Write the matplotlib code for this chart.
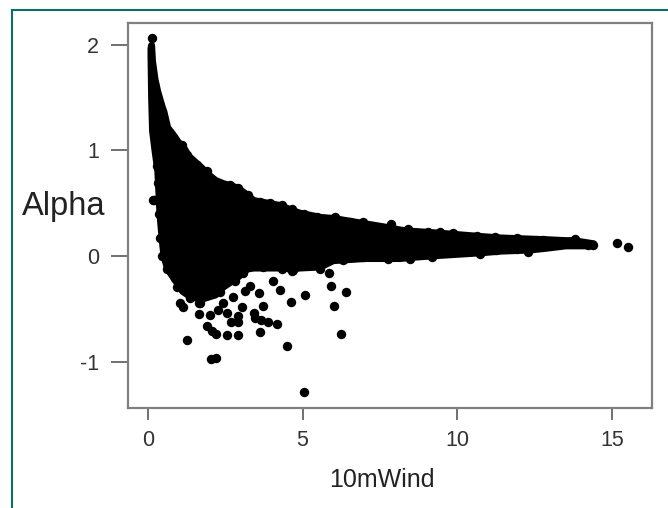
import matplotlib
matplotlib.use('Agg')
import matplotlib.pyplot as plt
from matplotlib.lines import Line2D

plt.rcParams['font.family'] = ['Liberation Sans', 'DejaVu Sans']
plt.rcParams['axes.unicode_minus'] = False

W, H = 668, 508

# outline of the solid cloud
cloud_x = [0.08, 0.10, 0.13, 0.21, 0.30, 0.37, 0.44, 0.50, 0.62, 0.78, 0.97, 1.10, 1.30, 1.68, 2.00, 2.17,
           2.42, 2.88, 3.20, 3.40, 4.30, 4.60, 4.90, 5.56, 5.98, 7.00, 7.82, 8.15, 8.47, 9.20,
           9.44, 10.7, 11.4, 12.3, 12.8, 13.5, 13.75, 14.4]
cloud_top = [1.97, 2.00, 1.85, 1.68, 1.56, 1.49, 1.42, 1.37, 1.22, 1.16, 1.08, 1.05, 0.95, 0.85, 0.76, 0.72,
             0.69, 0.65, 0.58, 0.53, 0.48, 0.44, 0.41, 0.37, 0.36, 0.31, 0.27, 0.25, 0.24, 0.225,
             0.22, 0.19, 0.175, 0.165, 0.16, 0.15, 0.15, 0.12]
cloud_bottom = [1.90, 1.50, 1.19, 1.00, 0.81, 0.40, 0.16, 0.00, -0.12, -0.19, -0.27, -0.33, -0.37, -0.41, -0.38, -0.365,
                -0.29, -0.20, -0.12, -0.11, -0.11, -0.12, -0.11, -0.10, -0.04, -0.02, -0.02, -0.02, -0.01, 0.005,
                0.01, 0.033, 0.05, 0.06, 0.075, 0.10, 0.10, 0.10]

# single points whose rims make the bumpy edge of the cloud
edge_wind = [0.82, 1.09, 1.25, 1.59, 1.90, 2.27, 2.65, 2.92, 3.24, 3.62, 3.94, 4.32, 4.65, 5.04, 5.45,
             6.05, 6.53, 6.94, 7.34, 7.85, 8.42, 9.06, 9.44, 9.85, 10.63, 11.22, 11.92, 12.77, 13.8, 14.23,
             0.17, 0.35, 0.39, 0.44, 0.60, 0.93, 0.31, 0.29,
             1.66, 1.36, 2.33, 2.81, 3.07, 3.72, 4.32, 4.68, 5.56, 0.87,
             6.31, 6.95, 7.77, 8.47, 9.2, 10.73, 11.27, 11.92, 12.29]
edge_alpha = [1.13, 1.05, 0.96, 0.86, 0.80, 0.69, 0.67, 0.64, 0.58, 0.51, 0.50, 0.48, 0.44, 0.40, 0.37,
              0.37, 0.325, 0.325, 0.27, 0.30, 0.255, 0.23, 0.23, 0.215, 0.19, 0.18, 0.17, 0.147, 0.158, 0.104,
              0.53, 0.40, 0.17, 0.0, -0.12, -0.29, 0.69, 0.85,
              -0.45, -0.39, -0.34, -0.24, -0.16, -0.10, -0.12, -0.13, -0.12, -0.21,
              -0.04, -0.01, -0.03, -0.03, -0.01, 0.02, 0.06, 0.07, 0.04]

# points that stand clear of the cloud
wind = [0.13, 15.16, 15.52, 14.4, 1.03, 1.12, 1.66, 2.0, 1.27, 1.92, 2.06, 2.2, 2.55, 2.9, 2.67, 2.91, 2.91,
        2.55, 2.27, 2.41, 3.03, 2.76, 3.14, 3.3, 3.59, 4.05, 4.27, 3.73, 4.61, 5.09, 3.43, 3.46,
        3.64, 3.89, 4.17, 3.63, 4.49, 5.03, 2.05, 2.19, 5.85, 5.93, 6.40, 6.02, 6.23, 1.68, 1.36,
        4.65, 0.20]
alpha = [2.06, 0.12, 0.088, 0.10, -0.45, -0.48, -0.55, -0.56, -0.80, -0.66, -0.71, -0.74, -0.75, -0.75, -0.63,
         -0.63, -0.57, -0.54, -0.51, -0.45, -0.48, -0.39, -0.33, -0.28, -0.35, -0.24, -0.32, -0.47,
         -0.44, -0.37, -0.54, -0.59, -0.61, -0.63, -0.64, -0.72, -0.85, -1.285, -0.975, -0.965,
         -0.165, -0.28, -0.34, -0.47, -0.74, -0.45, -0.40, -0.14, 0.53]

xticks = [0, 5, 10, 15]
yticks = [-1, 0, 1, 2]

fig = plt.figure(figsize=(W / 100, H / 100), dpi=100)
ax = fig.add_axes([128 / W, 1 - 408 / H, (652 - 128) / W, (408 - 23) / H])

# edge a bit thinner than one point so the rims of the edge points show
ax.fill_between(cloud_x, cloud_bottom, cloud_top, facecolor='black', edgecolor='black', lw=5, joinstyle='round')
ax.scatter(edge_wind, edge_alpha, s=46, c='black', lw=0)
ax.scatter(wind, alpha, s=46, c='black', lw=0)

ax.set_xlim(-0.647, 16.3)
ax.set_ylim(-1.44, 2.206)
ax.set_xticks(xticks)
ax.set_yticks(yticks)
ax.tick_params(axis='x', length=8.5, width=1.4, color='#707070', labelsize=15.5, labelcolor='#333333', pad=7)
ax.tick_params(axis='y', length=12, width=1.4, color='#707070', labelsize=15.5, labelcolor='#333333', pad=9)
for s in ax.spines.values():
    s.set_color('#808080')
    s.set_linewidth(1.6)

fig.text(63.5 / W, 1 - 206 / H, 'Alpha', fontsize=23.5, color='#222222', ha='center', va='center')
fig.text(382 / W, 1 - 480 / H, '10mWind', fontsize=18, color='#222222', ha='center', va='center')

# teal frame of the page, open on the right and at the bottom
teal = '#0f6e64'
fig.add_artist(Line2D([12 / W, 12 / W], [0, 1 - 10 / H], color=teal, lw=1.5))
fig.add_artist(Line2D([12 / W, 1], [1 - 10 / H, 1 - 10 / H], color=teal, lw=1.5))

fig.savefig('out.png', dpi=100)
